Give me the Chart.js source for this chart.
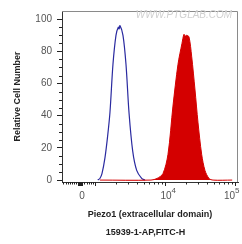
<!DOCTYPE html>
<html>
<head>
<meta charset="utf-8">
<script src="https://cdn.jsdelivr.net/npm/chart.js@4"></script>
<style>
  html, body { margin: 0; padding: 0; background: #fff; }
</style>
</head>
<body>
<canvas id="histChart" width="242" height="244"></canvas>
<script>
// x values are display positions in decades (10^4 -> 4, 10^5 -> 5)
const isotypeX = [3.04, 3.07, 3.10, 3.143, 3.18, 3.214, 3.257, 3.30, 3.333, 3.345, 3.357, 3.40, 3.443, 3.486, 3.539, 3.596, 3.667, 3.714];
const isotypeY = [0, 1, 4, 14, 27, 42, 72, 90, 95, 94, 96, 90, 72, 42, 18, 6, 1, 0];

const stainedX = [3.07, 3.80, 3.886, 3.971, 4.043, 4.114, 4.186, 4.243, 4.271, 4.29, 4.31, 4.343, 4.381, 4.429, 4.471, 4.524, 4.571, 4.629, 4.686, 4.96];
const stainedY = [0, 0, 1, 4, 16, 46, 72, 85, 90.6, 89.5, 90, 89, 77, 56, 36, 16, 6, 1, 0, 0];

const yTicks = [0, 20, 40, 60, 80, 100];
const xTickValues = [2.8, 4, 5];
const xTickLabels = [['0', ''], ['10', '4'], ['10', '5']];

const xMin = 2.529, xMax = 5.043;

document.addEventListener('DOMContentLoaded', function () {
    renderHistogram();
});

function toPoints(xs, ys) {
    return xs.map(function (x, i) { return { x: x, y: ys[i] }; });
}

// minor / major tick marks, frame and extra texts
const decorPlugin = {
    id: 'decor',
    afterDraw: function (chart) {
        const ctx = chart.ctx;
        const area = chart.chartArea;
        const xs = chart.scales.x;
        const ys = chart.scales.y;
        ctx.save();

        // frame top/right
        ctx.strokeStyle = '#8a8a8a';
        ctx.lineWidth = 1;
        ctx.beginPath();
        ctx.moveTo(area.left, area.top + 0.5);
        ctx.lineTo(area.right - 0.5, area.top + 0.5);
        ctx.lineTo(area.right - 0.5, area.bottom);
        ctx.stroke();

        // x ticks
        ctx.strokeStyle = '#222';
        const xb = area.bottom;
        function xTick(v, len) {
            const p = Math.round(xs.getPixelForValue(v)) + 0.5;
            ctx.beginPath();
            ctx.moveTo(p, xb);
            ctx.lineTo(p, xb + len);
            ctx.stroke();
        }
        for (let v = 2.55; v < 2.99; v += 0.03) xTick(v, 2.5);
        [2.76, 2.775, 2.79, 2.805, 2.82].forEach(function (v) { xTick(v, 4); });
        [3, 4, 5].forEach(function (v) { xTick(v, 4); });
        [3, 4].forEach(function (d) {
            for (let k = 2; k <= 9; k++) xTick(d + Math.log10(k), 2.5);
        });

        // y minor ticks
        for (let v = 5; v <= 100; v += 5) {
            if (v % 20 === 0) continue;
            const p = Math.round(ys.getPixelForValue(v)) + 0.5;
            ctx.beginPath();
            ctx.moveTo(area.left, p);
            ctx.lineTo(area.left - 3, p);
            ctx.stroke();
        }

        // x tick labels with superscripts
        ctx.fillStyle = '#555';
        ctx.textBaseline = 'alphabetic';
        xTickValues.forEach(function (v, i) {
            let p = xs.getPixelForValue(v) + 1;
            const base = xTickLabels[i][0];
            const sup = xTickLabels[i][1];
            ctx.font = '10px "Liberation Sans", Arial, sans-serif';
            const w = ctx.measureText(base).width;
            if (sup && p + w / 2 + 5 > chart.width - 2) p = chart.width - 7 - w / 2;
            ctx.textAlign = 'center';
            ctx.fillText(base, p, 199);
            if (sup) {
                ctx.font = '8px "Liberation Sans", Arial, sans-serif';
                ctx.textAlign = 'left';
                ctx.fillText(sup, p + w / 2, 193);
            }
        });

        // second line of the axis caption
        ctx.fillStyle = '#222';
        ctx.font = 'bold 9px "Liberation Sans", Arial, sans-serif';
        ctx.textAlign = 'center';
        ctx.textBaseline = 'middle';
        ctx.fillText('15939-1-AP,FITC-H', 145.5, 233);

        // watermark
        ctx.fillStyle = '#d0d0d0';
        ctx.font = 'italic 10px "Liberation Sans", Arial, sans-serif';
        ctx.fillText('WWW.PTGLAB.COM', 184, 15);

        ctx.restore();
    }
};

function renderHistogram() {
    const ctx = document.getElementById('histChart').getContext('2d');
    new Chart(ctx, {
        type: 'line',
        data: {
            datasets: [
                {
                    label: 'Piezo1',
                    data: toPoints(stainedX, stainedY),
                    borderColor: '#d40000',
                    backgroundColor: '#d40000',
                    borderWidth: 1,
                    fill: 'origin',
                    pointRadius: 0,
                    tension: 0.3
                },
                {
                    label: 'Control',
                    data: toPoints(isotypeX, isotypeY),
                    borderColor: '#2a2aa0',
                    borderWidth: 1.2,
                    fill: false,
                    pointRadius: 0,
                    tension: 0.3
                }
            ]
        },
        options: {
            responsive: false,
            devicePixelRatio: 1,
            animation: false,
            layout: { padding: { top: 6, right: 4 } },
            plugins: {
                legend: { display: false },
                tooltip: { enabled: false }
            },
            scales: {
                x: {
                    type: 'linear',
                    min: xMin,
                    max: xMax,
                    grid: { display: false },
                    border: { display: true, color: '#333', width: 1 },
                    ticks: { display: false },
                    afterFit: function (scale) { scale.height = 62; },
                    title: {
                        display: true,
                        text: 'Piezo1 (extracellular domain)',
                        color: '#222',
                        font: { family: '"Liberation Sans", Arial, sans-serif', size: 9, weight: 'bold' },
                        padding: { top: 0, bottom: 23.6 }
                    }
                },
                y: {
                    min: -1.2,
                    max: 105.1,
                    afterBuildTicks: function (scale) {
                        scale.ticks = yTicks.map(function (v) { return { value: v }; });
                    },
                    grid: { display: true, drawOnChartArea: false, drawTicks: true, tickLength: 5, color: '#222' },
                    border: { display: true, color: '#333', width: 1 },
                    ticks: {
                        color: '#555',
                        padding: 5,
                        font: { family: '"Liberation Sans", Arial, sans-serif', size: 10 }
                    },
                    afterFit: function (scale) { scale.width = 62; },
                    title: {
                        display: true,
                        text: 'Relative Cell Number',
                        color: '#222',
                        font: { family: '"Liberation Sans", Arial, sans-serif', size: 9, weight: 'bold' },
                        padding: { top: 12.6, bottom: 0 }
                    }
                }
            }
        },
        plugins: [decorPlugin]
    });
}
</script>
</body>
</html>
